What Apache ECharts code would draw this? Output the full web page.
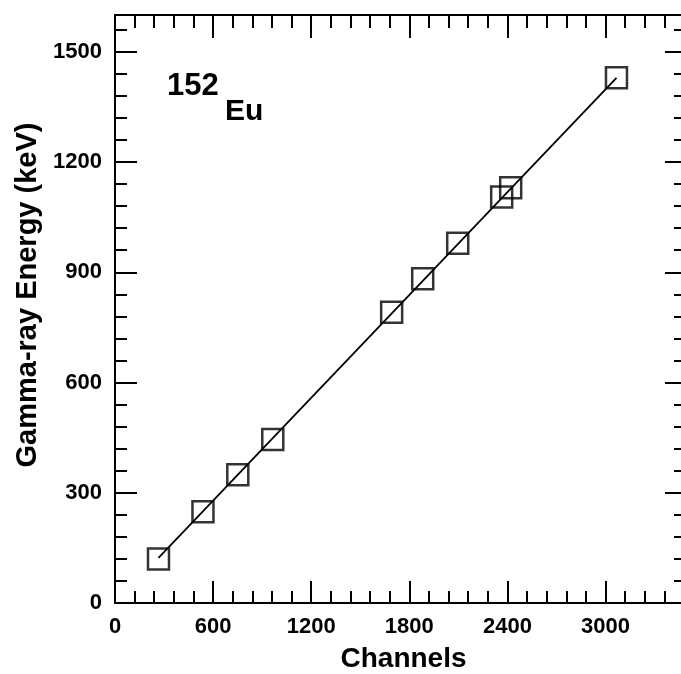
<!DOCTYPE html>
<html>
<head>
<meta charset="utf-8">
<script src="https://cdn.jsdelivr.net/npm/echarts@6/dist/echarts.min.js"></script>
<style>
  html, body { margin: 0; padding: 0; background: #fff; }
  #chart { width: 681px; height: 674px; }
</style>
</head>
<body>
<div id="chart"></div>
<script>
// Eu-152 calibration points
var channels = [266, 538, 751, 965, 1692, 1882, 2096, 2365, 2420, 3067];
var energies = [120, 248, 349, 445, 791, 882, 979, 1105, 1130, 1429];

// linear fit drawn through the points (end points)
var fitChannels = [266, 3067];
var fitEnergies = [123, 1429];

var xMax = 3480, yMax = 1600;
var font = '"Liberation Sans", Arial, sans-serif';

var chart = echarts.init(document.getElementById('chart'));

function pairs(xs, ys) {
  return xs.map(function (x, i) { return [x, ys[i]]; });
}
function plain(v) { return String(v); }

// major axis (labels + long ticks) and an overlay minor axis (short ticks)
function makeAxis(pos, max, interval, showLine, tickLen, extra) {
  var a = {
    type: 'value', position: pos, min: 0, max: max, interval: interval,
    axisLine: { show: showLine, onZero: false, lineStyle: { color: '#000', width: 2 } },
    axisTick: { show: true, inside: true, length: tickLen, lineStyle: { color: '#000', width: 2 } },
    axisLabel: { show: false },
    splitLine: { show: false }
  };
  return Object.assign(a, extra || {});
}

var option = {
  backgroundColor: '#fff',
  animation: false,
  grid: { left: 115, right: -3, top: 15, bottom: 71, outerBoundsMode: 'none', containLabel: false },
  xAxis: [
    makeAxis('bottom', xMax, 600, true, 22, {
      name: 'Channels', nameLocation: 'middle', nameGap: 42,
      nameTextStyle: { color: '#000', fontSize: 28, fontWeight: 'bold', fontFamily: font, padding: [0, 0, 0, 8] },
      axisLabel: { show: true, color: '#000', fontSize: 22, fontWeight: 'bold', fontFamily: font, margin: 13, showMaxLabel: false, formatter: plain }
    }),
    makeAxis('bottom', xMax, 120, false, 12),
    makeAxis('top', xMax, 600, true, 23),
    makeAxis('top', xMax, 120, false, 13)
  ],
  yAxis: [
    makeAxis('left', yMax, 300, true, 22, {
      name: 'Gamma-ray Energy (keV)', nameLocation: 'middle', nameGap: 67,
      nameTextStyle: { color: '#000', fontSize: 29, fontWeight: 'bold', fontFamily: font, padding: [0, 0, 0, 28] },
      axisLabel: { show: true, color: '#000', fontSize: 22, fontWeight: 'bold', fontFamily: font, margin: 13, showMaxLabel: false, formatter: plain }
    }),
    makeAxis('left', yMax, 60, false, 12),
    makeAxis('right', yMax, 300, false, 19),
    makeAxis('right', yMax, 60, false, 10)
  ],
  graphic: [
    { type: 'text', left: 167, top: 71, style: { text: '152', fill: '#000', font: 'bold 31px ' + font } },
    { type: 'text', left: 225, top: 97, style: { text: 'Eu', fill: '#000', font: 'bold 30px ' + font } }
  ],
  series: [
    {
      type: 'line',
      data: pairs(fitChannels, fitEnergies),
      showSymbol: false,
      lineStyle: { color: '#000', width: 1.8 },
      z: 2
    },
    {
      type: 'scatter',
      data: pairs(channels, energies),
      symbol: 'rect',
      symbolSize: 21,
      itemStyle: { color: 'rgba(0,0,0,0)', borderColor: '#000', borderWidth: 2.5 },
      z: 3
    }
  ]
};

chart.setOption(option);

window.addEventListener('resize', function () {
  chart.resize();
});
</script>
</body>
</html>
